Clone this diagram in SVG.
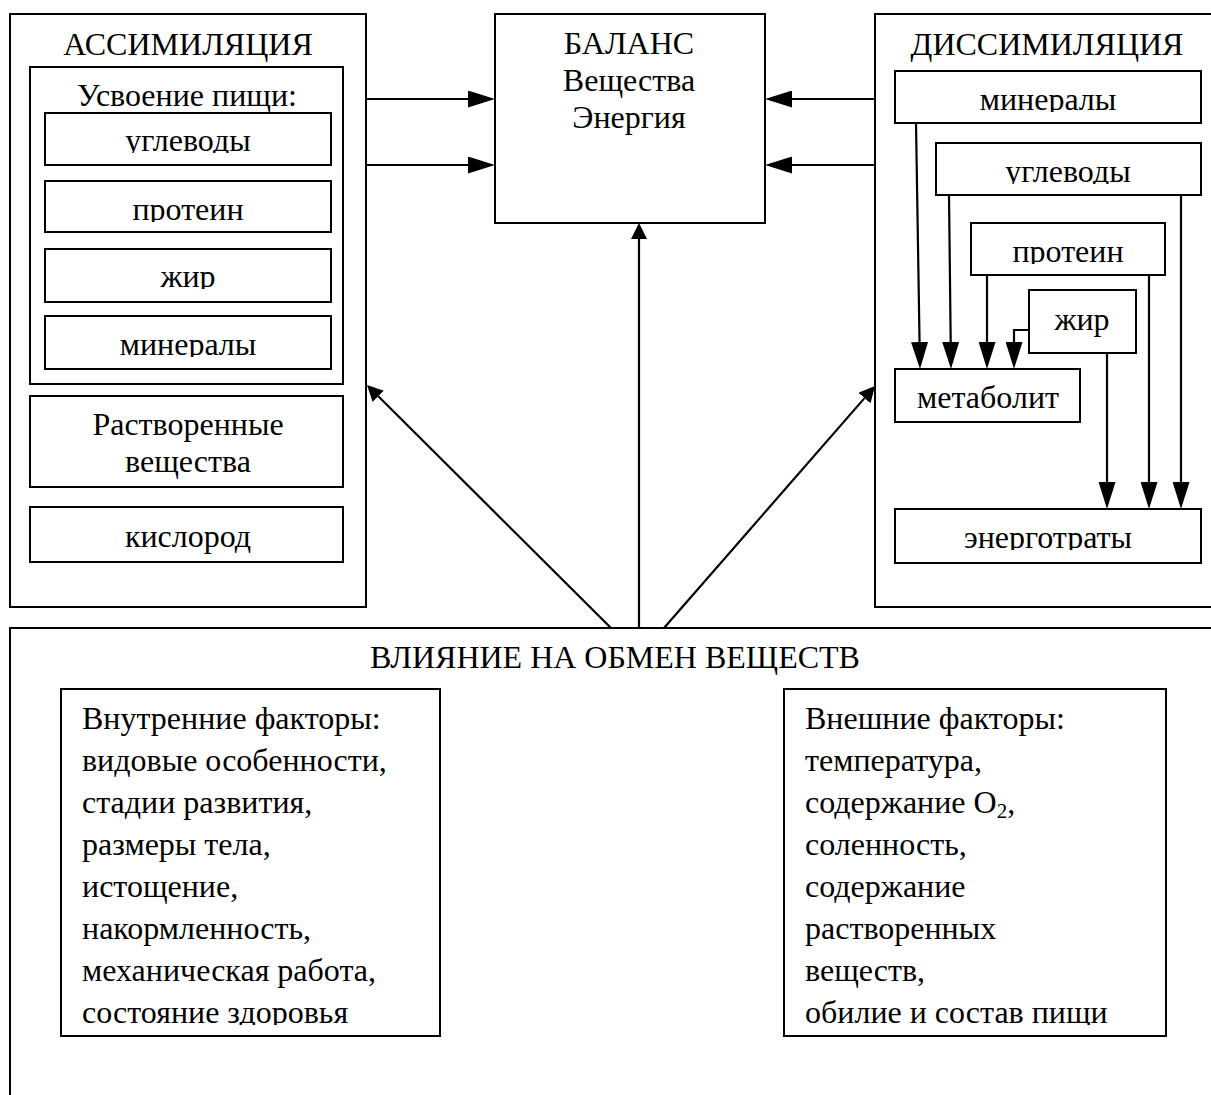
<svg xmlns="http://www.w3.org/2000/svg" width="1211" height="1095" viewBox="0 0 1211 1095">
<style>
.b{fill:#fff;stroke:#000;stroke-width:2}
.t{font-family:"Liberation Serif","Times New Roman",serif;font-size:32px;fill:#000}
.c{text-anchor:middle}
.ln{fill:none;stroke:#000;stroke-width:2.2}
</style>
<defs>
<marker id="ahL" markerUnits="userSpaceOnUse" markerWidth="27" markerHeight="17" viewBox="0 -8.5 27 17" refX="0" refY="0" orient="auto"><path d="M0,-8.5 L27,0 L0,8.5 z" fill="#000"/></marker>
<marker id="ahS" markerUnits="userSpaceOnUse" markerWidth="16" markerHeight="16" viewBox="0 -8 16 16" refX="0" refY="0" orient="auto"><path d="M0,-8 L16,0 L0,8 z" fill="#000"/></marker>
<clipPath id="cA1"><rect x="45" y="113" width="286" height="40"/></clipPath>
<clipPath id="cA2"><rect x="45" y="181" width="286" height="41"/></clipPath>
<clipPath id="cA3"><rect x="45" y="249" width="286" height="40"/></clipPath>
<clipPath id="cA4"><rect x="45" y="316" width="286" height="41"/></clipPath>
<clipPath id="cD1"><rect x="895" y="71" width="306" height="41"/></clipPath>
<clipPath id="cD2"><rect x="936" y="143" width="265" height="41"/></clipPath>
<clipPath id="cD3"><rect x="971" y="223" width="194" height="41"/></clipPath>
<clipPath id="cD4"><rect x="895" y="509" width="306" height="41"/></clipPath>
<clipPath id="cB1"><rect x="61" y="689" width="379" height="336"/></clipPath>
<clipPath id="cB2"><rect x="784" y="689" width="382" height="336"/></clipPath>
</defs>
<rect width="1211" height="1095" fill="#fff"/>

<g id="assimilation">
<rect class="b" x="10" y="14" width="356" height="593"/>
<text class="t c" x="188" y="55">АССИМИЛЯЦИЯ</text>
</g>
<g id="food">
<rect class="b" x="30" y="67" width="313" height="317"/>
<text class="t c" x="187" y="106">Усвоение пищи:</text>
</g>
<g id="a-carb">
<rect class="b" x="45" y="113" width="286" height="52"/>
<text class="t c" x="188" y="151" clip-path="url(#cA1)">углеводы</text>
</g>
<g id="a-protein">
<rect class="b" x="45" y="181" width="286" height="51"/>
<text class="t c" x="188" y="220" clip-path="url(#cA2)">протеин</text>
</g>
<g id="a-fat">
<rect class="b" x="45" y="249" width="286" height="53"/>
<text class="t c" x="188" y="287" clip-path="url(#cA3)">жир</text>
</g>
<g id="a-minerals">
<rect class="b" x="45" y="316" width="286" height="53"/>
<text class="t c" x="188" y="355" clip-path="url(#cA4)">минералы</text>
</g>
<g id="a-dissolved">
<rect class="b" x="30" y="396" width="313" height="91"/>
<text class="t c" x="188" y="435">Растворенные</text>
<text class="t c" x="188" y="472">вещества</text>
</g>
<g id="a-oxygen">
<rect class="b" x="30" y="507" width="313" height="55"/>
<text class="t c" x="188" y="547">кислород</text>
</g>

<g id="balance">
<rect class="b" x="495" y="14" width="270" height="209"/>
<text class="t c" x="629" y="54">БАЛАНС</text>
<text class="t c" x="629" y="91">Вещества</text>
<text class="t c" x="629" y="128">Энергия</text>
</g>

<g id="dissimilation">
<rect class="b" x="875" y="14" width="400" height="593"/>
<text class="t c" x="1047" y="55">ДИССИМИЛЯЦИЯ</text>
</g>
<g id="d-minerals">
<rect class="b" x="895" y="71" width="306" height="52"/>
<text class="t c" x="1048" y="110" clip-path="url(#cD1)">минералы</text>
</g>
<g id="d-carb">
<rect class="b" x="936" y="143" width="265" height="52"/>
<text class="t c" x="1068" y="182" clip-path="url(#cD2)">углеводы</text>
</g>
<g id="d-protein">
<rect class="b" x="971" y="223" width="194" height="52"/>
<text class="t c" x="1068" y="262" clip-path="url(#cD3)">протеин</text>
</g>
<g id="d-fat">
<rect class="b" x="1029" y="290" width="107" height="63"/>
<text class="t c" x="1082" y="330">жир</text>
</g>
<g id="d-metabolite">
<rect class="b" x="895" y="369" width="185" height="53"/>
<text class="t c" x="988" y="408">метаболит</text>
</g>
<g id="d-energy">
<rect class="b" x="895" y="509" width="306" height="54"/>
<text class="t c" x="1048" y="548" clip-path="url(#cD4)">энерготраты</text>
</g>

<g id="influence">
<rect class="b" x="10" y="628" width="1300" height="600"/>
<text class="t c" x="615" y="668">ВЛИЯНИЕ НА ОБМЕН ВЕЩЕСТВ</text>
</g>
<g id="internal">
<rect class="b" x="61" y="689" width="379" height="347"/>
<g class="t" clip-path="url(#cB1)">
<text x="82" y="729">Внутренние факторы:</text>
<text x="82" y="771">видовые особенности,</text>
<text x="82" y="813">стадии развития,</text>
<text x="82" y="855">размеры тела,</text>
<text x="82" y="897">истощение,</text>
<text x="82" y="939">накормленность,</text>
<text x="82" y="981">механическая работа,</text>
<text x="82" y="1023">состояние здоровья</text>
</g>
</g>
<g id="external">
<rect class="b" x="784" y="689" width="382" height="347"/>
<g class="t" clip-path="url(#cB2)">
<text x="805" y="729">Внешние факторы:</text>
<text x="805" y="771">температура,</text>
<text x="805" y="813">содержание O<tspan font-size="21" dy="5">2</tspan><tspan dy="-5">,</tspan></text>
<text x="805" y="855">соленность,</text>
<text x="805" y="897">содержание</text>
<text x="805" y="939">растворенных</text>
<text x="805" y="981">веществ,</text>
<text x="805" y="1023">обилие и состав пищи</text>
</g>
</g>

<g id="connectors" class="ln">
<path d="M366,99 H468" marker-end="url(#ahL)"/>
<path d="M366,165 H468" marker-end="url(#ahL)"/>
<path d="M876,99 H792" marker-end="url(#ahL)"/>
<path d="M876,165 H792" marker-end="url(#ahL)"/>
<path d="M639,628 V239" marker-end="url(#ahS)"/>
<path d="M611,628 L378.3,396.3" marker-end="url(#ahS)"/>
<path d="M664,628 L864.5,398.1" marker-end="url(#ahS)"/>
<path d="M916,123 L919.56,342" marker-end="url(#ahL)"/>
<path d="M949,195 L950.7,342" marker-end="url(#ahL)"/>
<path d="M987,275 V342" marker-end="url(#ahL)"/>
<path d="M1029,330 H1014 V342" marker-end="url(#ahL)"/>
<path d="M1107,353 V482" marker-end="url(#ahL)"/>
<path d="M1149,275 V482" marker-end="url(#ahL)"/>
<path d="M1181,195 V482" marker-end="url(#ahL)"/>
</g>
</svg>
